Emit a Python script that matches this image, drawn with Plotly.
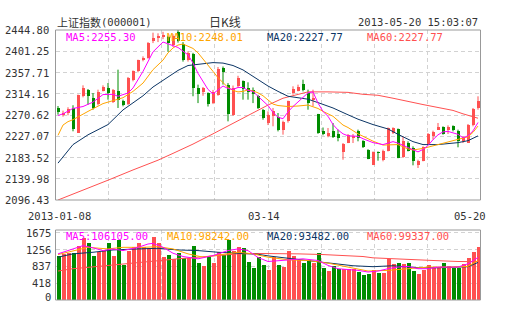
import plotly.graph_objects as go

W, H = 505, 330

# ---------------- data ----------------
open_ = [2284.9, 2272.5, 2274.7, 2285.0, 2234.0, 2308.9, 2321.8, 2305.4, 2293.2, 2320.5,
         2326.0, 2297.7, 2319.0, 2300.0, 2293.0, 2343.0, 2360.0, 2382.6, 2387.4, 2423.0,
         2428.0, 2430.0, 2431.0, 2415.0, 2441.0, 2416.0, 2383.0, 2395.0, 2326.0, 2317.8,
         2315.7, 2295.0, 2312.3, 2366.0, 2333.0, 2271.3, 2329.4, 2341.0, 2326.0, 2322.5,
         2310.0, 2281.5, 2254.2, 2268.0, 2265.8, 2240.6, 2257.6, 2315.7, 2320.5, 2334.0,
         2315.7, 2302.0, 2272.7, 2237.0, 2226.9, 2237.0, 2231.7, 2194.8, 2213.2, 2223.5,
         2237.0, 2218.0, 2199.6, 2168.8, 2194.8, 2179.0, 2197.5, 2233.7, 2242.6, 2183.9,
         2213.2, 2203.0, 2168.8, 2177.0, 2211.2, 2226.9, 2240.6, 2246.7, 2240.6, 2248.0,
         2238.5, 2216.7, 2213.2, 2249.4, 2285.0]
high = [2289.0, 2279.5, 2286.5, 2290.6, 2312.5, 2331.4, 2323.9, 2315.7, 2322.5, 2331.4,
        2336.2, 2323.9, 2363.5, 2302.0, 2348.5, 2362.0, 2384.0, 2390.8, 2420.0, 2439.3,
        2438.0, 2441.0, 2433.0, 2436.0, 2444.8, 2420.0, 2401.0, 2398.0, 2332.8, 2328.0,
        2317.0, 2322.0, 2369.0, 2370.0, 2336.0, 2331.0, 2351.0, 2341.5, 2337.6, 2327.0,
        2312.0, 2283.0, 2278.0, 2285.0, 2274.7, 2259.0, 2300.0, 2329.4, 2332.8, 2343.0,
        2322.5, 2322.5, 2273.0, 2245.0, 2244.0, 2254.2, 2240.6, 2213.2, 2231.7, 2231.7,
        2240.6, 2219.0, 2200.5, 2196.0, 2196.0, 2199.6, 2245.0, 2245.4, 2243.0, 2226.9,
        2216.7, 2206.4, 2179.0, 2206.4, 2233.7, 2238.5, 2254.2, 2247.4, 2249.4, 2249.4,
        2240.6, 2226.9, 2252.2, 2285.0, 2308.9]
low = [2271.3, 2267.2, 2270.0, 2237.2, 2233.7, 2306.8, 2291.8, 2281.5, 2290.4, 2319.0,
       2302.0, 2295.2, 2285.0, 2288.4, 2291.0, 2339.6, 2358.0, 2380.6, 2386.0, 2418.0,
       2420.0, 2426.0, 2400.0, 2410.0, 2419.0, 2380.0, 2380.0, 2309.0, 2295.0, 2310.0,
       2288.0, 2293.0, 2310.0, 2333.0, 2257.6, 2269.0, 2327.0, 2302.0, 2302.0, 2295.0,
       2283.0, 2261.0, 2250.0, 2247.5, 2237.0, 2230.3, 2255.0, 2312.3, 2319.0, 2319.0,
       2281.5, 2288.4, 2232.0, 2229.0, 2225.0, 2223.5, 2216.7, 2179.0, 2213.0, 2213.2,
       2216.7, 2203.0, 2180.0, 2168.0, 2177.0, 2175.7, 2196.0, 2231.7, 2182.0, 2182.5,
       2196.0, 2167.5, 2162.0, 2175.7, 2209.8, 2220.0, 2240.6, 2230.3, 2231.7, 2237.0,
       2204.4, 2213.2, 2213.2, 2247.4, 2281.5]
close = [2276.1, 2275.3, 2283.7, 2242.0, 2311.7, 2325.7, 2309.6, 2284.9, 2317.1, 2328.2,
         2315.1, 2320.9, 2301.8, 2291.3, 2346.4, 2360.0, 2382.6, 2386.7, 2418.2, 2428.2,
         2433.1, 2434.5, 2418.5, 2432.4, 2421.6, 2382.9, 2397.2, 2325.2, 2314.6, 2326.1,
         2293.0, 2318.0, 2365.6, 2359.5, 2273.4, 2326.3, 2347.2, 2323.1, 2318.6, 2313.2,
         2285.3, 2264.0, 2270.2, 2279.5, 2240.0, 2257.0, 2298.6, 2323.9, 2328.8, 2322.5,
         2295.2, 2305.5, 2233.7, 2233.0, 2233.7, 2224.9, 2223.5, 2211.2, 2230.3, 2227.0,
         2223.5, 2204.4, 2181.1, 2194.8, 2193.4, 2196.0, 2244.0, 2244.0, 2182.5, 2216.7,
         2197.5, 2177.0, 2175.7, 2204.4, 2231.7, 2235.8, 2245.4, 2231.7, 2245.4, 2240.6,
         2216.7, 2224.9, 2250.8, 2283.6, 2300.0]
volume = [1108, 1150, 1166, 1174, 1355, 1543, 1420, 1108, 1190, 1248,
          1412, 1108, 1494, 862, 1232, 1330, 1412, 1313, 1289, 1576,
          1412, 1084, 1133, 1010, 1166, 1043, 1043, 1355, 919, 837,
          1108, 919, 1190, 1133, 1494, 1215, 1330, 1289, 944, 796,
          1067, 862, 739, 1067, 862, 821, 1232, 1108, 985, 919,
          985, 919, 1174, 796, 714, 837, 763, 780, 780, 780,
          698, 616, 657, 739, 673, 673, 1026, 887, 919, 887,
          919, 723, 641, 755, 862, 821, 821, 919, 837, 796,
          796, 903, 1043, 1190, 1313]

# moving-average lines (candle index -> value)
ma5_idx = [0, 1, 3, 5, 7, 9, 11, 12, 14, 15, 17, 18, 19, 21, 22, 24, 26, 27, 28, 30,
           31, 32, 33, 34, 35, 36, 37, 38, 39, 40, 41, 42, 43, 44, 45, 46, 47, 48, 49, 50,
           51, 52, 53, 54, 55, 56, 57, 58, 60, 61, 63, 65, 67, 68, 70, 72, 73, 74, 75, 76,
           77, 78, 80, 81, 82, 83, 84]
ma5_val = [2269.6, 2273, 2284, 2288, 2297, 2312.5, 2313, 2309, 2315.7, 2326, 2360, 2380.7, 2400, 2420.2, 2416, 2409, 2394, 2377, 2356, 2323,
           2314, 2321.5, 2330, 2325, 2323, 2327, 2327, 2321, 2319, 2309, 2300, 2290, 2276, 2266, 2263, 2277, 2288, 2298, 2307, 2316,
           2318, 2295, 2278, 2268, 2251, 2240, 2232, 2228, 2227, 2222, 2214, 2210, 2216, 2213, 2204, 2195, 2200, 2208, 2220, 2230,
           2236, 2237, 2231, 2224, 2228, 2238, 2255.3]
ma10_idx = [0, 1, 2, 3, 6, 9, 13, 15, 17, 19, 21, 22, 23, 24, 25, 26, 27, 28, 29, 30,
            31, 32, 33, 34, 35, 36, 37, 38, 39, 40, 41, 42, 43, 44, 46, 48, 50, 52, 53, 55,
            57, 58, 60, 62, 63, 65, 68, 70, 71, 73, 76, 79, 82, 83, 84]
ma10_val = [2229, 2250, 2257, 2261, 2278, 2294, 2306, 2319, 2336, 2363.5, 2383, 2398, 2408, 2414, 2416, 2412, 2407, 2398, 2386, 2372,
            2360, 2347, 2338, 2327, 2321, 2318, 2319, 2322, 2320, 2316, 2310, 2302, 2293, 2290, 2288, 2289, 2291, 2284, 2278, 2268,
            2250, 2245, 2232, 2222, 2217, 2209, 2210, 2201, 2199, 2202, 2210, 2217, 2226, 2235, 2248.0]
ma20_idx = [0, 3, 6, 10, 13, 17, 19, 21, 24, 26, 29, 31, 33, 35, 37, 39, 41, 42, 44, 46,
            48, 50, 52, 55, 58, 60, 63, 66, 68, 71, 73, 76, 80, 82, 84]
ma20_val = [2172, 2210, 2230, 2251, 2281, 2310, 2328, 2341, 2362, 2372, 2376, 2378, 2377, 2372, 2363, 2350, 2337, 2330, 2319, 2309,
            2306, 2303, 2296, 2285, 2271, 2262, 2251, 2242, 2231, 2216, 2210, 2210, 2214, 2218, 2227.8]
ma60_idx = [0, 5, 10, 15, 20, 23, 27, 31, 35, 39, 42, 45, 48, 50, 54, 58, 61, 64, 67, 70,
            73, 76, 79, 81, 84]
ma60_val = [2096.4, 2116, 2137, 2158, 2178, 2192, 2211, 2232, 2253, 2275, 2291, 2305, 2313, 2318, 2318, 2317, 2313, 2311, 2305, 2298,
            2292, 2286, 2280, 2273, 2264]

vma5_idx = [0, 3, 5, 7, 9, 11, 13, 16, 18, 19, 21, 23, 25, 28, 31, 34, 36, 38, 40, 42,
            45, 47, 49, 52, 54, 56, 58, 60, 62, 64, 66, 68, 70, 72, 74, 76, 78, 80, 82, 84]
vma5_val = [1150, 1273, 1355, 1300, 1232, 1273, 1232, 1313, 1396, 1412, 1313, 1166, 1084, 1026, 1108, 1232, 1273, 1232, 1060, 960,
            985, 1002, 1026, 985, 862, 780, 763, 739, 698, 722, 780, 821, 837, 780, 780, 821, 821, 821, 903, 1061]
vma10_idx = [0, 3, 6, 10, 13, 17, 20, 23, 26, 29, 33, 36, 39, 42, 46, 50, 54, 58, 62, 66,
             70, 74, 78, 82, 84]
vma10_val = [1133, 1232, 1313, 1273, 1313, 1313, 1330, 1273, 1150, 1067, 1133, 1190, 1150, 1067, 1002, 985, 919, 821, 722, 739,
             780, 821, 821, 837, 982]
vma20_idx = [0, 3, 7, 11, 16, 20, 24, 28, 32, 36, 40, 42, 46, 52, 55, 59, 63, 67, 72, 76,
             82, 84]
vma20_val = [1067, 1150, 1190, 1248, 1273, 1289, 1248, 1232, 1190, 1166, 1140, 1100, 1034, 952, 911, 854, 830, 854, 804, 804,
             830, 935]
vma60_idx = [0, 3, 8, 12, 16, 20, 24, 28, 32, 36, 40, 43, 48, 53, 57, 61, 63, 68, 75, 80,
             84]
vma60_val = [722, 780, 837, 887, 944, 985, 1026, 1067, 1108, 1150, 1160, 1160, 1150, 1133, 1108, 1084, 1051, 1018, 985, 960,
             955]

price_ticks = [2444.80, 2401.25, 2357.71, 2314.16, 2270.62, 2227.07, 2183.52, 2139.98, 2096.43]
vol_ticks = [1675, 1256, 837, 418, 0]
x_label_idx = [0, 42, 84]
x_label_text = ["2013-01-08", "03-14", "05-20"]

title_name = "上证指数"
title_code = "(000001)"
title_mid = "日K线"
title_time = "2013-05-20 15:03:07"
ma_labels = ["MA5:2255.30", "MA10:2248.01", "MA20:2227.77", "MA60:2227.77"]
vma_labels = ["MA5:106105.00", "MA10:98242.00", "MA20:93482.00", "MA60:99337.00"]

# ---------------- styling ----------------
RED = "#FF5050"
GREEN = "#008C00"
C_MA5 = "#FF00FF"
C_MA10 = "#FFA500"
C_MA20 = "#0B3565"
C_MA60 = "#FF5050"
TXT = "#333333"
GRID = "#D2D2D2"
FRAME = "#999999"
MONO = "DejaVu Sans Mono, Liberation Mono, monospace"
CJK = "Noto Sans CJK SC, sans-serif"

n = len(close)
idx = list(range(n))

def px(xp):
    return xp / W

def py(yp):
    return 1 - yp / H

fig = go.Figure()

# candles: wicks then bodies
for is_up, col in [(True, RED), (False, GREEN)]:
    wx, wy = [], []
    bx, bbase, bh = [], [], []
    for i in idx:
        up = close[i] >= open_[i]
        if up != is_up:
            continue
        wx += [i, i, None]
        wy += [low[i], high[i], None]
        bx.append(i)
        lo = min(open_[i], close[i])
        bbase.append(lo)
        bh.append(max(abs(close[i] - open_[i]), 0.8))
    fig.add_trace(go.Scatter(x=wx, y=wy, mode="lines", line=dict(color=col, width=1),
                             xaxis="x", yaxis="y", hoverinfo="skip", showlegend=False))
    fig.add_trace(go.Bar(x=bx, y=bh, base=bbase, width=0.72, marker=dict(color=col, line=dict(width=0)),
                         xaxis="x", yaxis="y", showlegend=False))

for xs, ys, col in [(ma60_idx, ma60_val, C_MA60), (ma20_idx, ma20_val, C_MA20),
                    (ma10_idx, ma10_val, C_MA10), (ma5_idx, ma5_val, C_MA5)]:
    fig.add_trace(go.Scatter(x=xs, y=ys, mode="lines", line=dict(color=col, width=1),
                             xaxis="x", yaxis="y", showlegend=False))

# volume
vcol = [RED if close[i] >= open_[i] else GREEN for i in idx]
fig.add_trace(go.Bar(x=idx, y=volume, width=0.8, marker=dict(color=vcol, line=dict(width=0)),
                     xaxis="x2", yaxis="y2", showlegend=False))
for xs, ys, col in [(vma60_idx, vma60_val, C_MA60), (vma20_idx, vma20_val, C_MA20),
                    (vma10_idx, vma10_val, C_MA10), (vma5_idx, vma5_val, C_MA5)]:
    fig.add_trace(go.Scatter(x=xs, y=ys, mode="lines", line=dict(color=col, width=1),
                             xaxis="x2", yaxis="y2", showlegend=False))

L, R = 55.5, 480.5
grid_x = [-0.5 + (n / 8) * k for k in range(1, 8)]
xcommon = dict(domain=[px(L), px(R)], range=[-0.5, n - 0.5], showticklabels=False,
               tickvals=grid_x, showgrid=True, gridcolor=GRID, griddash="4px,3px", gridwidth=1,
               zeroline=False, showline=False, ticks="")
MAIN_T, MAIN_B = 30, 200
VOL_T, VOL_B = 230, 300
vmax = 1745

annotations = []
for v in price_ticks:
    annotations.append(dict(x=px(50.5), y=v, xref="paper", yref="y", xanchor="right", yanchor="middle",
                            text=f"{v:.2f}", showarrow=False, font=dict(family=MONO, size=10.5, color=TXT)))
for v in vol_ticks:
    yy = v if v > 0 else 70
    annotations.append(dict(x=px(52.5), y=yy, xref="paper", yref="y2", xanchor="right", yanchor="middle",
                            text=str(v), showarrow=False, font=dict(family=MONO, size=10.5, color=TXT)))
xl_pos = [59, 264, 469.5]
for t, xp in zip(x_label_text, xl_pos):
    annotations.append(dict(x=px(xp), y=py(216.5), xref="paper", yref="paper", xanchor="center", yanchor="middle",
                            text=t, showarrow=False, font=dict(family=MONO, size=10.5, color=TXT)))
annotations.append(dict(x=px(55), y=py(22), xref="paper", yref="paper", xanchor="left", yanchor="middle",
                        text=title_name, showarrow=False, font=dict(family=CJK, size=11, color=TXT)))
annotations.append(dict(x=px(99), y=py(22), xref="paper", yref="paper", xanchor="left", yanchor="middle",
                        text=title_code, showarrow=False, font=dict(family=MONO, size=10.5, color=TXT)))
annotations.append(dict(x=px(225), y=py(22), xref="paper", yref="paper", xanchor="center", yanchor="middle",
                        text=title_mid, showarrow=False, font=dict(family=CJK, size=12, color=TXT)))
annotations.append(dict(x=px(479.5), y=py(22), xref="paper", yref="paper", xanchor="right", yanchor="middle",
                        text=title_time, showarrow=False, font=dict(family=MONO, size=10.5, color=TXT)))
lab_x = [64, 164.5, 265, 365]
lab_c = [C_MA5, C_MA10, C_MA20, C_MA60]
for t, xp, c in zip(ma_labels, lab_x, lab_c):
    annotations.append(dict(x=px(xp), y=py(36.5), xref="paper", yref="paper", xanchor="left", yanchor="middle",
                            text=t, showarrow=False, font=dict(family=MONO, size=10.5, color=c)))
for t, xp, c in zip(vma_labels, lab_x, lab_c):
    annotations.append(dict(x=px(xp), y=py(236), xref="paper", yref="paper", xanchor="left", yanchor="middle",
                            text=t, showarrow=False, font=dict(family=MONO, size=10.5, color=c)))

shapes = [
    dict(type="rect", xref="paper", yref="paper", x0=px(L), x1=px(R), y0=py(MAIN_B), y1=py(MAIN_T),
         line=dict(color=FRAME, width=1), layer="above"),
    dict(type="rect", xref="paper", yref="paper", x0=px(L), x1=px(R), y0=py(VOL_B), y1=py(VOL_T),
         line=dict(color=FRAME, width=1), layer="above"),
]

fig.update_layout(
    width=W, height=H, margin=dict(l=0, r=0, t=0, b=0),
    paper_bgcolor="white", plot_bgcolor="white",
    barmode="overlay", bargap=0, showlegend=False,
    xaxis=dict(anchor="y", **xcommon),
    xaxis2=dict(anchor="y2", **xcommon),
    yaxis=dict(domain=[py(MAIN_B), py(MAIN_T)], range=[price_ticks[-1], price_ticks[0]],
               tickvals=price_ticks[1:-1], showgrid=True, gridcolor=GRID, griddash="4px,3px",
               showticklabels=False, zeroline=False, showline=False, ticks=""),
    yaxis2=dict(domain=[py(VOL_B), py(VOL_T)], range=[0, vmax],
                tickvals=vol_ticks[:-1], showgrid=True, gridcolor=GRID, griddash="4px,3px",
                showticklabels=False, zeroline=False, showline=False, ticks=""),
    annotations=annotations, shapes=shapes,
)

fig.write_html("out.html")
